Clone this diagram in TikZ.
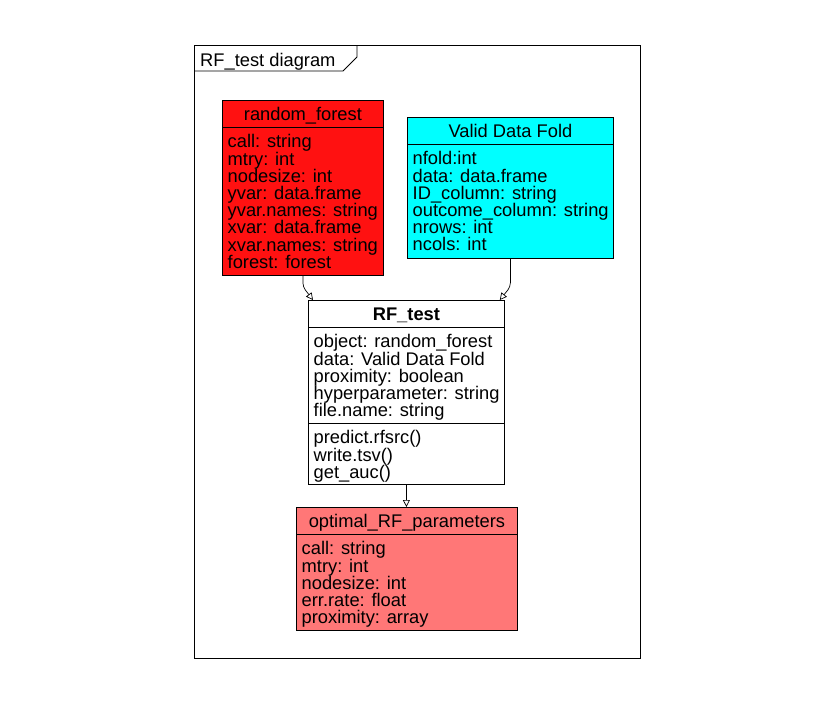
\documentclass[tikz,border=0pt]{standalone}
\usepackage{fontspec}
\setmainfont{Liberation Sans}
\usetikzlibrary{arrows.meta,calc}
\definecolor{rfred}{HTML}{FF1111}
\definecolor{foldcyan}{HTML}{00FFFF}
\definecolor{optpink}{HTML}{FF7777}

\begin{document}
\begin{tikzpicture}[x=1pt,y=-1pt,
  cls/.style={draw,line width=0.8pt,anchor=north west,inner sep=0pt},
  div/.style={line width=0.8pt},
  hd/.style={font=\fontsize{18.3}{17.2}\selectfont,anchor=base,inner sep=0pt},
  fld/.style={font=\fontsize{18.3}{17.2}\selectfont,anchor=base west,inner sep=0pt},
  gen/.style={-{Triangle[open,length=7pt,width=7pt]},line width=0.7pt,rounded corners=4pt}]
\useasboundingbox (0,0) rectangle (834,702);
% ---------- frame ----------
\node[draw,line width=1pt,anchor=north west,minimum width=446pt,minimum height=613pt,inner sep=0pt] (frame) at (194,45) {};
\draw[div] ($(frame.north west)+(0,26)$) -- ++(149,0) -- ++(14,-14) -- ++(0,-12);
\node[fld] (frame-t) at ($(frame.north west)+(6,21)$) {RF\_test diagram};
% ---------- random_forest ----------
\node[cls,fill=rfred,minimum width=161pt,minimum height=175pt] (rf) at (222,100) {};
\draw[div] ($(rf.north west)+(0,27)$) -- ($(rf.north east)+(0,27)$);
\node[hd] (rf-h) at ($(rf.north)+(0,20.5)$) {random\_forest};
\foreach \s [count=\i] in {call: string,mtry: int,nodesize: int,yvar: data.frame,yvar.names: string,xvar: data.frame,xvar.names: string,forest: forest}
  \node[fld] (rf-\i) at ($(rf.north west)+(5.5,30.6+17.2*\i)$) {\s};
% ---------- Valid Data Fold ----------
\node[cls,fill=foldcyan,minimum width=206pt,minimum height=141pt] (vf) at (407,117) {};
\draw[div] ($(vf.north west)+(0,27)$) -- ($(vf.north east)+(0,27)$);
\node[hd] (vf-h) at ($(vf.north)+(0,20.5)$) {Valid Data Fold};
\foreach \s [count=\i] in {nfold:int,data: data.frame,ID\_column: string,outcome\_column: string,nrows: int,ncols: int}
  \node[fld] (vf-\i) at ($(vf.north west)+(5.5,30.6+17.2*\i)$) {\s};
% ---------- RF_test ----------
\node[cls,fill=white,minimum width=196pt,minimum height=184pt] (rt) at (308,300) {};
\draw[div] ($(rt.north west)+(0,27)$) -- ($(rt.north east)+(0,27)$);
\draw[div] ($(rt.north west)+(0,123)$) -- ($(rt.north east)+(0,123)$);
\node[hd,font=\fontsize{18.3}{17.2}\selectfont\bfseries] (rt-h) at ($(rt.north)+(0,20.5)$) {RF\_test};
\foreach \s [count=\i] in {object: random\_forest,data: Valid Data Fold,proximity: boolean,hyperparameter: string,file.name: string}
  \node[fld] (rt-\i) at ($(rt.north west)+(5.5,30.6+17.2*\i)$) {\s};
\foreach \s [count=\i] in {predict.rfsrc(),write.tsv(),get\_auc()}
  \node[fld] (rt-m\i) at ($(rt.north west)+(5.5,126.6+17.2*\i)$) {\s};
% ---------- optimal_RF_parameters ----------
\node[cls,fill=optpink,minimum width=221pt,minimum height=123pt] (op) at (296,507) {};
\draw[div] ($(op.north west)+(0,27)$) -- ($(op.north east)+(0,27)$);
\node[hd] (op-h) at ($(op.north)+(0,20.5)$) {optimal\_RF\_parameters};
\foreach \s [count=\i] in {call: string,mtry: int,nodesize: int,err.rate: float,proximity: array}
  \node[fld] (op-\i) at ($(op.north west)+(5.5,30.6+17.2*\i)$) {\s};
% ---------- links ----------
\draw[gen] (rf.south) -- ++(0,11) -- ($(rt.north west)+(5,0)$);
\draw[gen] (vf.south) -- ++(0,28) -- ($(rt.north east)+(-5,0)$);
\draw[gen] (rt.south) -- (rt.south |- op.north);
\end{tikzpicture}
\end{document}
